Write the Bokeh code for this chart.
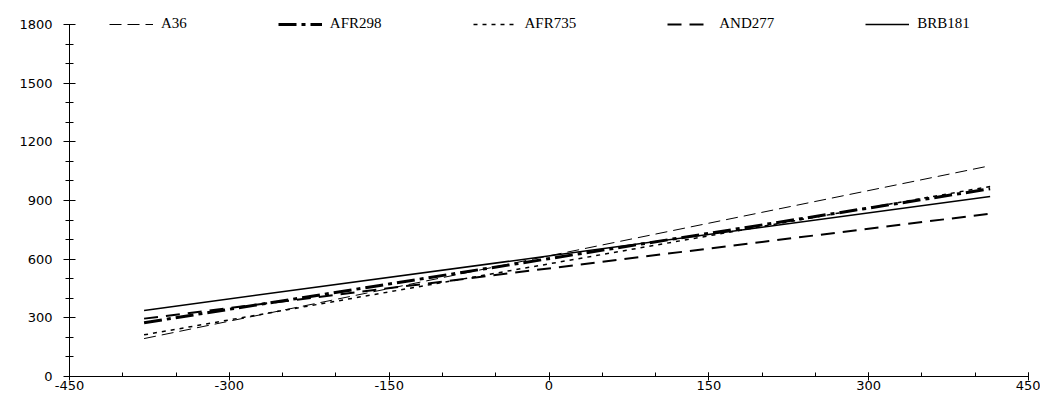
from bokeh.plotting import figure
from bokeh.models import Range1d, SingleIntervalTicker, Legend, LegendItem, PrintfTickFormatter
from bokeh.embed import file_html
from bokeh.resources import INLINE

# ---- data ----
series = ["A36", "AFR298", "AFR735", "AND277", "BRB181"]
x_pts = [-380, 414]
a36 = [194, 1078]
afr298 = [275, 960]
afr735 = [213, 972]
and277 = [296, 833]
brb181 = [338, 921]
x_ticks_interval = 150
y_ticks_interval = 300

values = {"A36": a36, "AFR298": afr298, "AFR735": afr735, "AND277": and277, "BRB181": brb181}
styles = {
    "A36": dict(line_width=1.0, line_dash="12 6"),
    "AFR298": dict(line_width=3.0, line_dash="18 5 4 5"),
    "AFR735": dict(line_width=1.5, line_dash="4 5"),
    "AND277": dict(line_width=2.0, line_dash="14 8"),
    "BRB181": dict(line_width=1.5, line_dash="solid"),
}

# y range extends a little above 1800 to leave room for the legend inside the frame
p = figure(width=1040, height=392, output_backend="svg", toolbar_location=None,
           x_range=Range1d(-450, 450), y_range=Range1d(0, 1872),
           min_border_left=69, min_border_right=12, min_border_top=10, min_border_bottom=10)
p.outline_line_color = None
p.grid.visible = False
p.background_fill_color = "white"

items = []
for name in series:
    r = p.line(x_pts, values[name], line_color="black", **styles[name])
    items.append(LegendItem(label=name, renderers=[r]))

p.xaxis.ticker = SingleIntervalTicker(interval=x_ticks_interval, num_minor_ticks=3)
p.yaxis.ticker = SingleIntervalTicker(interval=y_ticks_interval, num_minor_ticks=3)
p.xaxis.formatter = PrintfTickFormatter(format="%d")
p.yaxis.formatter = PrintfTickFormatter(format="%d")
p.yaxis.bounds = (0, 1800)

for ax in (p.xaxis[0], p.yaxis[0]):
    ax.axis_line_color = "black"
    ax.major_tick_line_color = "black"
    ax.minor_tick_line_color = "black"
    ax.major_label_text_font = "DejaVu Sans"
    ax.major_label_text_font_size = "13px"
    ax.major_label_text_color = "black"

p.xaxis.major_tick_in = 4
p.xaxis.major_tick_out = 4
p.xaxis.minor_tick_in = 4
p.xaxis.minor_tick_out = 0
p.xaxis.major_label_standoff = 0

p.yaxis.major_tick_in = 6
p.yaxis.major_tick_out = 6
p.yaxis.minor_tick_in = 4
p.yaxis.minor_tick_out = 4
p.yaxis.major_label_standoff = 11

legend = Legend(items=items, orientation="horizontal", location=(40, 344),
                padding=0, margin=0, spacing=91, glyph_width=44, glyph_height=16,
                label_height=16, label_standoff=8, border_line_color=None,
                background_fill_alpha=0, label_text_font="Liberation Serif",
                label_text_font_size="15px", label_text_color="black")
p.add_layout(legend)

open("out.html", "w").write(file_html(p, INLINE))
